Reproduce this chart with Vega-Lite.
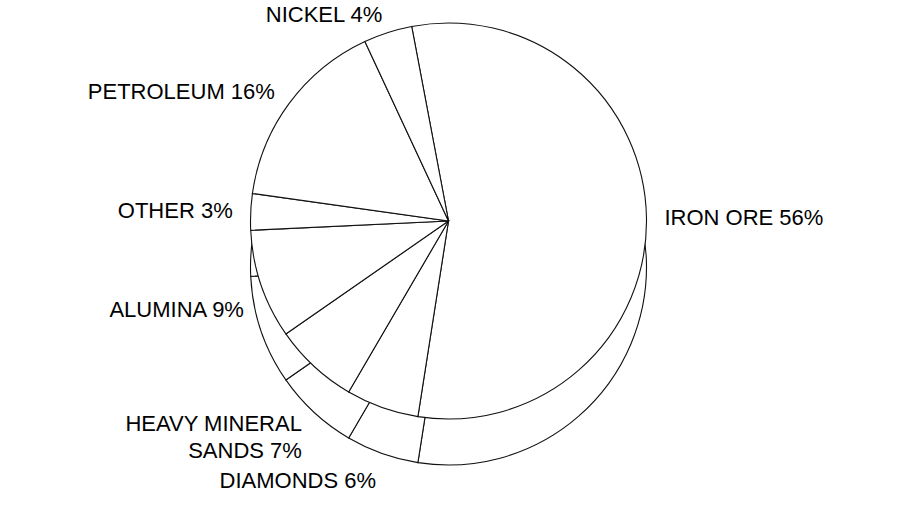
{
  "$schema": "https://vega.github.io/schema/vega-lite/v6.json",
  "width": 897,
  "height": 442,
  "padding": {"left": 0, "top": 0, "right": 14, "bottom": 65},
  "autosize": {"type": "none"},
  "background": "white",
  "config": {"view": {"stroke": null}},
  "data": {
    "values": [
      {"idx": 1, "label": "IRON ORE 56%", "pct": 56},
      {"idx": 2, "label": "DIAMONDS 6%", "pct": 6},
      {"idx": 3, "label": "HEAVY MINERAL\nSANDS 7%", "pct": 7},
      {"idx": 4, "label": "ALUMINA 9%", "pct": 9},
      {"idx": 5, "label": "OTHER 3%", "pct": 3},
      {"idx": 6, "label": "PETROLEUM 16%", "pct": 16},
      {"idx": 7, "label": "NICKEL 4%", "pct": 4}
    ]
  },
  "encoding": {
    "theta": {
      "field": "pct",
      "type": "quantitative",
      "stack": true,
      "scale": {"range": [-0.187, 6.0962]}
    },
    "order": {"field": "idx", "type": "quantitative"}
  },
  "layer": [
    {
      "mark": {
        "type": "arc",
        "radius": 198,
        "yOffset": 46,
        "fill": "white",
        "stroke": "#111",
        "strokeWidth": 1.1
      }
    },
    {
      "mark": {
        "type": "arc",
        "radius": 198,
        "fill": "white",
        "stroke": "#111",
        "strokeWidth": 1.1
      }
    },
    {
      "mark": {
        "type": "text",
        "radius": 216,
        "font": "Liberation Sans",
        "fontSize": 22,
        "fill": "#000",
        "lineBreak": "\n",
        "lineHeight": 27,
        "baseline": "middle",
        "align": {"expr": "sin(scale('theta', (datum.pct_start + datum.pct_end) / 2)) > 0 ? 'left' : 'right'"},
        "dy": {"expr": "max(0, -cos(scale('theta', (datum.pct_start + datum.pct_end) / 2))) * 60"}
      },
      "encoding": {"text": {"field": "label", "type": "nominal"}}
    }
  ]
}
